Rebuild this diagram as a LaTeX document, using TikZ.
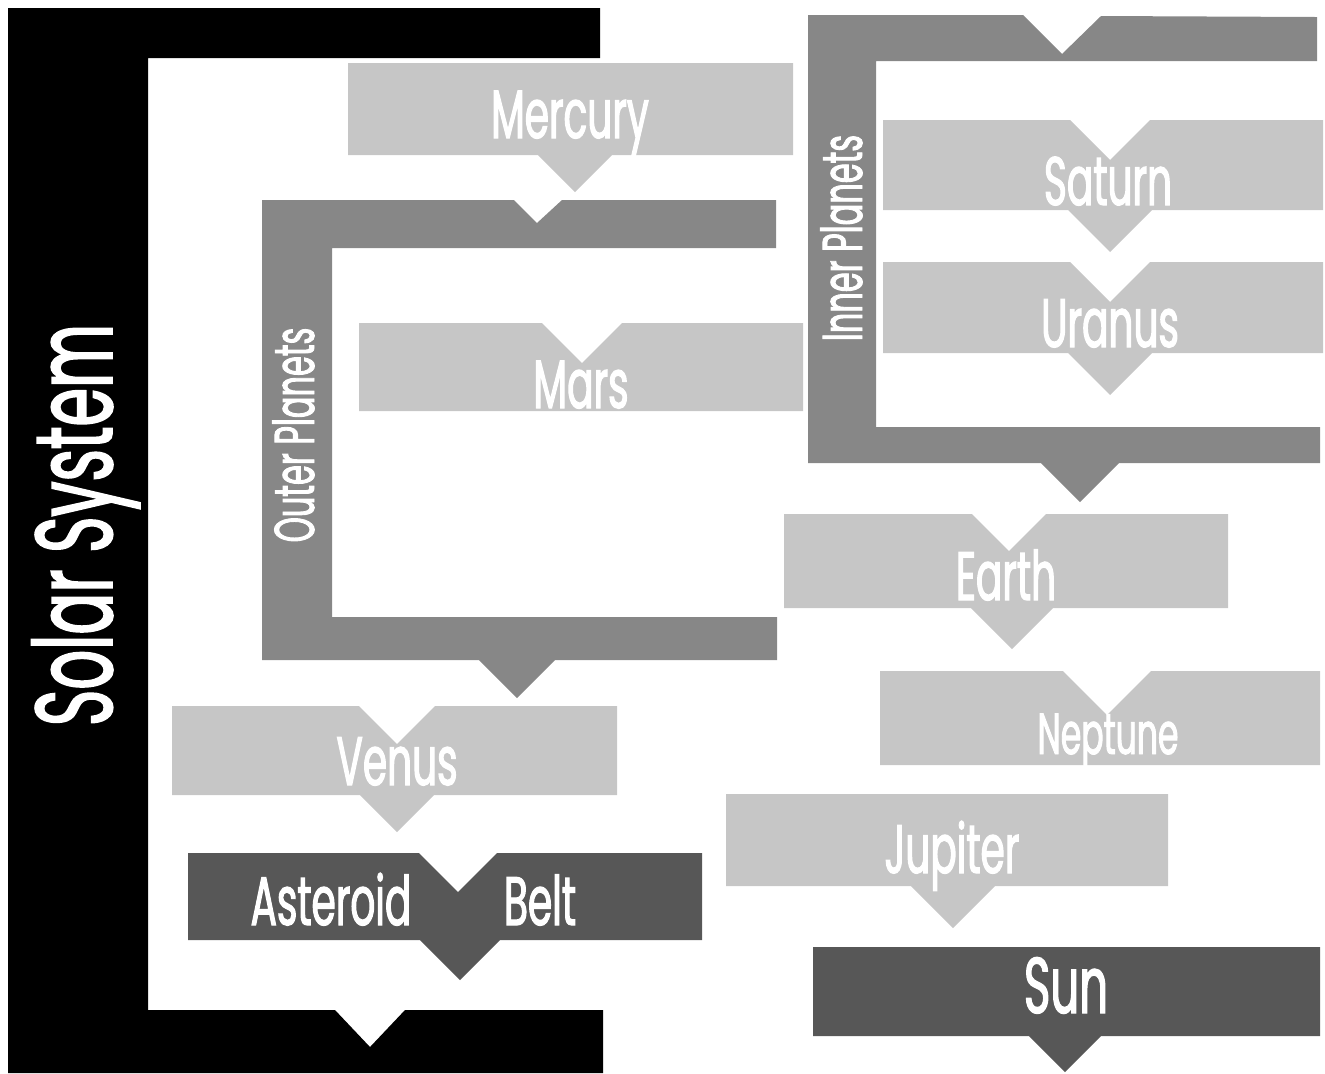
\documentclass[tikz,border=0pt]{standalone}
\usepackage{fontspec}
\newfontfamily\labelfont[FakeStretch=0.57, FakeBold=1.6]{Poppins}
\definecolor{lightgrey}{HTML}{C6C6C6}
\definecolor{midgrey}{HTML}{878787}
\definecolor{darkgrey}{HTML}{575757}
% box with a notch on top and a pointer below:
% fill, left, right, top, bottom, notch x, notch depth, pointer x, pointer depth
\newcommand{\tagshape}[9]{%
  \fill[#1] (#2,#4) -- ({#6-#7},#4) -- (#6,{#4-#7}) -- ({#6+#7},#4) -- (#3,#4)
    -- (#3,#5) -- ({#8+#9},#5) -- (#8,{#5-#9}) -- ({#8-#9},#5) -- (#2,#5) -- cycle;}
\tikzset{
  planet/.style={text=white, inner sep=0pt, anchor=base,
    font=\labelfont\fontsize{19.5}{20}\selectfont},
  group/.style={text=white, inner sep=0pt, anchor=base, rotate=90,
    font=\labelfont\fontsize{16}{17}\selectfont}
}
\begin{document}
\begin{tikzpicture}
    \useasboundingbox (0,0) rectangle (13.25,-10.73);

    % ===== Solar System bracket =====
    \fill[black] (0.08,-0.08) -- (6.00,-0.08) -- (6.00,-0.58) -- (1.48,-0.58)
        -- (1.48,-10.10) -- (3.35,-10.10) -- (3.70,-10.47) -- (4.05,-10.10)
        -- (6.03,-10.10) -- (6.03,-10.73) -- (0.08,-10.73) -- cycle;
    \node[group, font=\labelfont\fontsize{31}{32}\selectfont] (solar) at (1.12,-5.25) {Solar System};

    % ===== Outer Planets bracket =====
    \fill[midgrey] (2.62,-2.00) -- (5.14,-2.00) -- (5.37,-2.23) -- (5.62,-2.00)
        -- (7.76,-2.00) -- (7.76,-2.48) -- (3.32,-2.48) -- (3.32,-6.17)
        -- (7.77,-6.17) -- (7.77,-6.60) -- (5.55,-6.60) -- (5.17,-6.98)
        -- (4.79,-6.60) -- (2.62,-6.60) -- cycle;
    \node[group] (outer) at (3.14,-4.35) {Outer Planets};

    % ===== Inner Planets bracket =====
    \fill[midgrey] (8.08,-0.15) -- (10.23,-0.15) -- (10.62,-0.54) -- (11.01,-0.16)
        -- (13.17,-0.17) -- (13.17,-0.61) -- (8.76,-0.61) -- (8.76,-4.27)
        -- (13.20,-4.27) -- (13.20,-4.63) -- (11.19,-4.63) -- (10.80,-5.02)
        -- (10.41,-4.63) -- (8.08,-4.63) -- cycle;
    \node[group] (inner) at (8.62,-2.38) {Inner Planets};

    % ===== left column =====
    \tagshape{lightgrey}{3.48}{7.93}{-0.63}{-1.55}{5.75}{0}{5.75}{0.37}
    \node[planet] (mercury) at (5.70,-1.38) {Mercury};

    \tagshape{lightgrey}{3.59}{8.03}{-3.23}{-4.11}{5.82}{0.40}{5.82}{0}
    \node[planet] (mars) at (5.81,-4.08) {Mars};

    \tagshape{lightgrey}{1.72}{6.17}{-7.06}{-7.95}{3.97}{0.38}{3.97}{0.37}
    \node[planet] (venus) at (3.97,-7.85) {Venus};

    \tagshape{darkgrey}{1.88}{7.02}{-8.53}{-9.40}{4.58}{0.39}{4.60}{0.40}
    \node[planet] (asteroid) at (3.31,-9.25) {Asteroid};
    \node[planet] (belt) at (5.40,-9.25) {Belt};

    % ===== right column =====
    \tagshape{lightgrey}{8.83}{13.23}{-1.20}{-2.10}{11.10}{0.40}{11.10}{0.42}
    \node[planet] (saturn) at (11.08,-2.05) {Saturn};

    \tagshape{lightgrey}{8.83}{13.23}{-2.62}{-3.53}{11.10}{0.40}{11.10}{0.42}
    \node[planet] (uranus) at (11.10,-3.47) {Uranus};

    \tagshape{lightgrey}{7.84}{12.28}{-5.14}{-6.08}{10.09}{0.37}{10.12}{0.41}
    \node[planet] (earth) at (10.06,-6.00) {Earth};

    \tagshape{lightgrey}{8.80}{13.20}{-6.71}{-7.65}{11.07}{0.44}{11.07}{0}
    \node[planet, font=\labelfont\fontsize{16.5}{17}\selectfont] (neptune) at (11.08,-7.54) {Neptune};

    \tagshape{lightgrey}{7.26}{11.68}{-7.94}{-8.86}{9.53}{0}{9.53}{0.42}
    \node[planet] (jupiter) at (9.52,-8.73) {Jupiter};

    \tagshape{darkgrey}{8.13}{13.20}{-9.47}{-10.36}{10.65}{0}{10.65}{0.36}
    \node[planet, font=\labelfont\fontsize{22.5}{23}\selectfont] (sun) at (10.66,-10.13) {Sun};
\end{tikzpicture}
\end{document}
